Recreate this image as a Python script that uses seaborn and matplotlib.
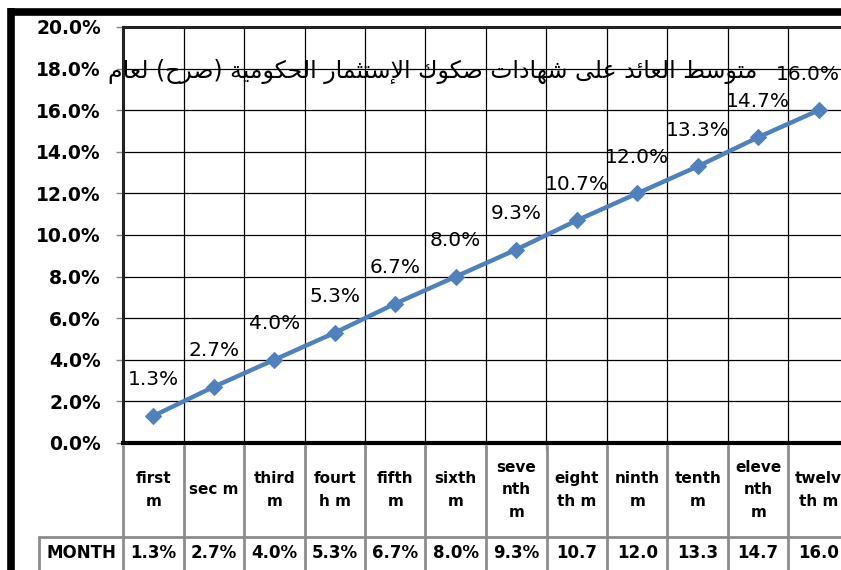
import pandas as pd
import seaborn as sns
import matplotlib.pyplot as plt
from matplotlib.lines import Line2D
from matplotlib.ticker import FuncFormatter

# chart data
month_labels = ['first\nm', 'sec m', 'third\nm', 'fourt\nh m', 'fifth\nm', 'sixth\nm',
                'seve\nnth\nm', 'eight\nth m', 'ninth\nm', 'tenth\nm', 'eleve\nnth\nm', 'twelv\nth m']
rates = [1.3, 2.7, 4.0, 5.3, 6.7, 8.0, 9.3, 10.7, 12.0, 13.3, 14.7, 16.0]
series_name = 'MONTH'
title = 'متوسط العائد على شهادات صكوك الإستثمار الحكومية (صرح) لعام'
y_ticks = [0, 2, 4, 6, 8, 10, 12, 14, 16, 18, 20]

# minimal arabic shaping (matplotlib has no text shaping)
# isolated form in presentation forms-B, number of forms (2 = joins to the right only)
AR_FORMS = {
    'ا': (0xFE8D, 2), 'إ': (0xFE87, 2), 'ئ': (0xFE89, 4), 'ة': (0xFE93, 2),
    'ت': (0xFE95, 4), 'ث': (0xFE99, 4), 'ح': (0xFEA1, 4), 'د': (0xFEA9, 2),
    'ر': (0xFEAD, 2), 'س': (0xFEB1, 4), 'ش': (0xFEB5, 4), 'ص': (0xFEB9, 4),
    'ط': (0xFEC1, 4), 'ع': (0xFEC9, 4), 'ك': (0xFED9, 4), 'ل': (0xFEDD, 4),
    'م': (0xFEE1, 4), 'ه': (0xFEE9, 4), 'و': (0xFEED, 2), 'ى': (0xFEEF, 2),
    'ي': (0xFEF1, 4),
}
LAM_ALEF = {'ا': 0xFEFB, 'إ': 0xFEF9}


def shape_ar(s):
    out = []
    i = 0
    n = len(s)
    while i < n:
        c = s[i]
        prev = s[i - 1] if i > 0 else ''
        link_prev = prev in AR_FORMS and AR_FORMS[prev][1] == 4
        if c == 'ل' and i + 1 < n and s[i + 1] in LAM_ALEF:
            out.append(chr(LAM_ALEF[s[i + 1]] + (1 if link_prev else 0)))
            i += 2
            continue
        if c not in AR_FORMS:
            out.append(c)
            i += 1
            continue
        base, nf = AR_FORMS[c]
        nxt = s[i + 1] if i + 1 < n else ''
        link_next = nf == 4 and nxt in AR_FORMS
        if link_prev and link_next:
            form = 3
        elif link_prev:
            form = 1
        elif link_next:
            form = 2
        else:
            form = 0
        out.append(chr(base + form))
        i += 1
    vis = ''.join(reversed(out))
    return vis.translate(str.maketrans('()', ')('))


sns.set_style('white')
plt.rcParams['font.family'] = ['DejaVu Sans']
plt.rcParams['text.color'] = 'black'
plt.rcParams['ytick.labelcolor'] = 'black'

W, H = 841, 570
fig = plt.figure(figsize=(W / 100, H / 100), dpi=100)

# layout in pixels
x0, x1 = 123, 849
y_top, y_bot = 27, 443
col_w = (x1 - x0) / len(month_labels)

ax = fig.add_axes([x0 / W, 1 - y_bot / H, (x1 - x0) / W, (y_bot - y_top) / H])
df = pd.DataFrame({'month': month_labels, 'rate': rates})
sns.lineplot(data=df, x='month', y='rate', sort=False, ax=ax, color='#4f81bd',
             lw=3.2, marker='D', markersize=8.5, markeredgecolor='#4f81bd')

ax.set_xlim(-0.5, len(month_labels) - 0.5)
ax.set_ylim(0, 20)
ax.set_yticks(y_ticks)
ax.yaxis.set_major_formatter(FuncFormatter(lambda v, p: f'{v:.1f}%'))
ax.set_xticks([i - 0.5 for i in range(len(month_labels) + 1)])
ax.set_xticklabels([])
ax.set_xlabel('')
ax.set_ylabel('')
ax.grid(True, color='black', lw=0.9)
ax.tick_params(axis='y', left=True, length=5, width=1, color='#888888', pad=11,
               labelsize=13.5, labelcolor='black')
ax.tick_params(axis='x', bottom=True, length=5, width=1, color='#888888')
for lab in ax.get_yticklabels():
    lab.set_fontweight('bold')
for side in ['left', 'top']:
    ax.spines[side].set_color('#222222')
    ax.spines[side].set_linewidth(2.2)
ax.spines['bottom'].set_color('black')
ax.spines['bottom'].set_linewidth(3)
ax.spines['right'].set_visible(False)

# data labels
for i, v in enumerate(rates):
    dx = -8 if i == len(rates) - 1 else 0
    ax.annotate(f'{v:.1f}%', (i, v), xytext=(dx, 26), textcoords='offset points',
                ha='center', va='center', fontsize=14.5, color='black')

# title
fig.text(757 / W, 1 - 72 / H, shape_ar(title), ha='right', va='center',
         fontsize=17, color='black')

# data table under the plot
tb_top, tb_bot = 446, 600
month_left = 39
tx = fig.add_axes([month_left / W, 1 - tb_bot / H, (x1 - month_left) / W, (tb_bot - tb_top) / H])
left_data = -0.5 - (x0 - month_left) / col_w
tx.set_xlim(left_data, len(month_labels) - 0.5)
tx.set_ylim(tb_bot - tb_top, 0)
tx.axis('off')
row_y = 537 - tb_top
grey = '#8c8c8c'
for i in range(len(month_labels) + 1):
    tx.plot([i - 0.5, i - 0.5], [0, tb_bot - tb_top], color=grey, lw=2, clip_on=False)
tx.plot([left_data, len(month_labels) - 0.5], [row_y, row_y], color=grey, lw=2, clip_on=False)
tx.plot([left_data, left_data], [row_y, tb_bot - tb_top], color=grey, lw=2, clip_on=False)
for i, (lab, v) in enumerate(zip(month_labels, rates)):
    tx.text(i, 490 - tb_top, lab, ha='center', va='center', fontsize=11,
            fontweight='bold', linespacing=1.6, color='black')
    s = f'{v:.1f}%'
    if len(s) > 4:
        s = s[:-1]
    tx.text(i, 553 - tb_top, s, ha='center', va='center', fontsize=12,
            fontweight='bold', color='black')
tx.text((left_data - 0.5) / 2, 553 - tb_top, series_name, ha='center', va='center',
        fontsize=12, fontweight='bold', color='black')

# outer chart frame
fig.add_artist(Line2D([11 / W, 11 / W], [0, 1 - 8 / H], color='black', lw=5.5,
                      solid_capstyle='butt', transform=fig.transFigure))
fig.add_artist(Line2D([8 / W, 1], [1 - 11.5 / H, 1 - 11.5 / H], color='black', lw=5.5,
                      solid_capstyle='butt', transform=fig.transFigure))

fig.savefig('out.png', dpi=100)
